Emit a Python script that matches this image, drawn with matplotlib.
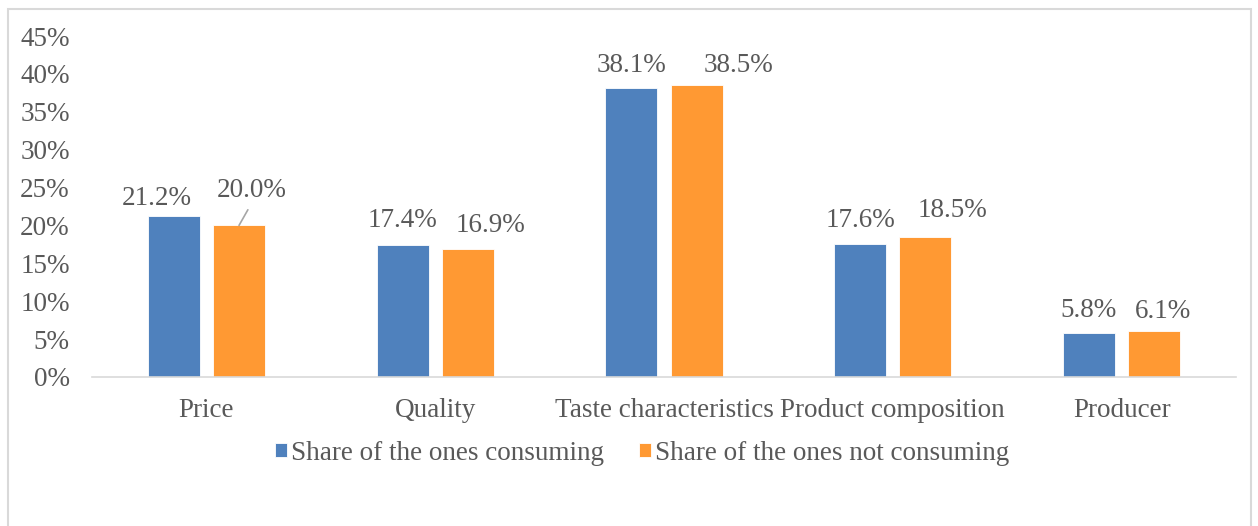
import matplotlib
matplotlib.use("Agg")
import matplotlib.pyplot as plt
import numpy as np
from matplotlib.patches import Rectangle

categories = ["Price", "Quality", "Taste characteristics", "Product composition", "Producer"]
consuming = [21.2, 17.4, 38.1, 17.6, 5.8]
not_consuming = [20.0, 16.9, 38.5, 18.5, 6.1]
series_names = ["Share of the ones consuming", "Share of the ones not consuming"]
yticks = [0, 5, 10, 15, 20, 25, 30, 35, 40, 45]

# label placement (layout only, in points: baseline above bar top)
blue_label_dx = [-12.0, 0.0, 0.0, 0.0, 0.0]
blue_label_dy = [8.0, 13.0, 11.5, 12.2, 11.5]
orange_label_dx = [9.0, 16.5, 30.0, 19.5, 6.5]
orange_label_dy = [20.2, 12.2, 9.4, 14.4, 9.4]

plt.rcParams['font.family'] = ['Liberation Serif', 'DejaVu Serif']
txt = '#595959'
blue = '#4F81BD'
orange = '#FF9933'
FS = 19.5

W, H = 1258, 526
fig = plt.figure(figsize=(W/100, H/100), dpi=100)
ax = fig.add_axes([92/W, 1-377/H, (1236-92)/W, (377-36)/H])

x = np.arange(len(categories))
bw = 0.227
gap = 0.058
off = (bw + gap) / 2
ax.bar(x - off, consuming, bw, color=blue, edgecolor='white', linewidth=0.6, label=series_names[0])
ax.bar(x + off, not_consuming, bw, color=orange, edgecolor='white', linewidth=0.6, label=series_names[1])

ax.set_xlim(-0.5, len(categories) - 0.5)
ax.set_ylim(0, 45)
ax.set_yticks(yticks)
ax.set_yticklabels([f"{v}%" for v in yticks], fontsize=FS, color=txt)
ax.set_xticks(x)
ax.set_xticklabels(categories, fontsize=FS, color=txt)
ax.tick_params(axis='y', length=0, pad=16)
ax.tick_params(axis='x', length=0, pad=15)
for s in ['top', 'right', 'left']:
    ax.spines[s].set_visible(False)
ax.spines['bottom'].set_color('#D9D9D9')
ax.spines['bottom'].set_linewidth(1.2)

for i, v in enumerate(consuming):
    ax.annotate(f"{v:.1f}%", (x[i] - off, v), xytext=(blue_label_dx[i], blue_label_dy[i]),
                textcoords='offset points', ha='center', va='baseline', fontsize=FS, color=txt)
for i, v in enumerate(not_consuming):
    kw = {}
    if i == 0:
        kw['arrowprops'] = dict(arrowstyle='-', color='#A6A6A6', lw=1.2, shrinkA=3, shrinkB=0,
                                relpos=(0.5, 0.0))
    ax.annotate(f"{v:.1f}%", (x[i] + off, v), xytext=(orange_label_dx[i], orange_label_dy[i]),
                textcoords='offset points', ha='center', va='baseline', fontsize=FS, color=txt, **kw)

fig.legend(loc='center', bbox_to_anchor=(642/W, 1-453/H), ncol=2, frameon=False,
           fontsize=FS, handlelength=0.45, handleheight=0.45, handletextpad=0.15,
           columnspacing=1.3, labelcolor=txt)

fig.patches.append(Rectangle((8/W, -0.05), (1251-8)/W, 1.05 - 9/H, transform=fig.transFigure,
                             fill=False, edgecolor='#D9D9D9', linewidth=1.5))

fig.savefig("out.png", dpi=100, facecolor='white')
